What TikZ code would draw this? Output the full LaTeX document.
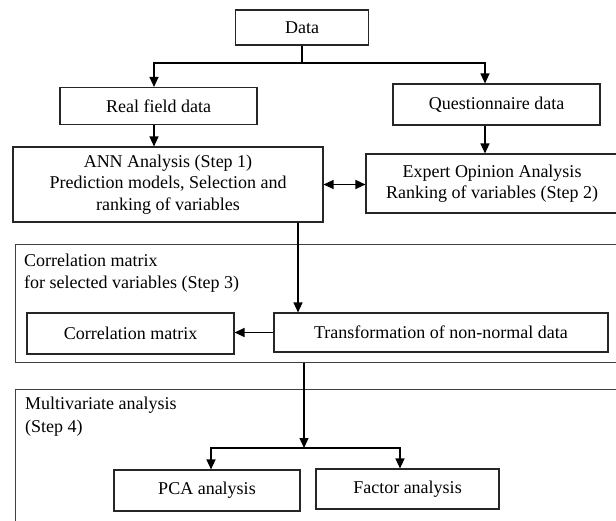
\documentclass[tikz,border=0pt]{standalone}
\usepackage{fontspec}
\setmainfont{Liberation Serif}
\usetikzlibrary{arrows.meta}
\begin{document}
\begin{tikzpicture}[x=1pt,y=-1pt,
  box/.style={draw=black!85,line width=1.1pt,inner sep=0pt,align=center,font=\fontsize{18}{21.5}\selectfont},
  title/.style={inner sep=0pt,align=left,anchor=west,font=\fontsize{18}{22.5}\selectfont},
  con/.style={line width=1.2pt,black},
  arr/.style={con,-{Triangle[length=10pt,width=9pt]}},
  arrb/.style={con,{Triangle[length=10pt,width=9pt]}-{Triangle[length=10pt,width=9pt]}},
  frame/.style={line width=1pt,black!75}]
\clip (0,0) rectangle (616,521);
\fill[white] (0,0) rectangle (616,521);
% outer group frames
\draw[frame] (620,245) -- (15,245) -- (15,363) -- (620,363);
\draw[frame] (620,389) -- (15,389) -- (15,530);
\node[title] (t3) at (24,273) {Correlation matrix\\for selected variables (Step 3)};
\node[title] (t4) at (25,416.5) {Multivariate analysis\\(Step 4)};
% boxes
\node[box,minimum width=133pt,minimum height=35pt] (data) at (302,27.5) {Data};
\node[box,minimum width=197pt,minimum height=37pt] (real) at (158.5,106) {Real field data};
\node[box,minimum width=207pt,minimum height=41pt] (quest) at (496.5,104.5) {Questionnaire data};
\node[box,minimum width=310pt,minimum height=75pt] (ann) at (168,184.5) {ANN Analysis (Step 1)\\Prediction models, Selection and\\ranking of variables};
\node[box,minimum width=252pt,minimum height=59pt] (expert) at (492,183.5) {Expert Opinion Analysis\\Ranking of variables (Step 2)};
\node[box,minimum width=207pt,minimum height=41pt] (corrm) at (130.5,333.5) {Correlation matrix};
\node[box,minimum width=334pt,minimum height=39pt] (trans) at (441,332.5) {Transformation of non-normal data};
\node[box,minimum width=186pt,minimum height=41pt] (pca) at (207,490.5) {PCA analysis};
\node[box,minimum width=183pt,minimum height=40pt] (factor) at (407.5,489) {Factor analysis};
% connectors
\coordinate (jt) at (302,63);
\draw[con] (data.south) -- (jt);
\draw[arr] (jt) -| ([xshift=-4.5pt]real.north);
\draw[arr] (jt) -| ([xshift=-11.5pt]quest.north);
\draw[arr] ([xshift=-4.5pt]real.south) -- ([xshift=-4.5pt]real.south |- ann.north);
\draw[arr] ([xshift=-11.5pt]quest.south) -- ([xshift=-11.5pt]quest.south |- expert.north);
\draw[arrb] (ann.east) -- (ann.east -| expert.west);
\draw[arr] ([xshift=130pt]ann.south) -- ([xshift=130pt]ann.south |- trans.north);
\draw[arr] (trans.west) -- (trans.west -| corrm.east);
\coordinate (cb) at (304,363);
\coordinate (mj) at (304,448);
\draw[arr] (cb) -- (mj);
\draw[arr] (mj) -| ([xshift=4pt]pca.north);
\draw[arr] (mj) -| ([xshift=-7.5pt]factor.north);
\end{tikzpicture}
\end{document}
